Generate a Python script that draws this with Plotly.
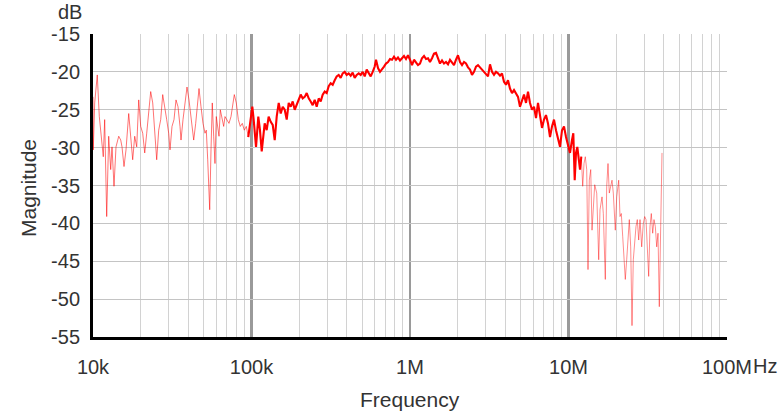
import plotly.graph_objects as go

# Frequency (kHz) and magnitude (dB)
freq_khz = [
    10.0, 10.04, 10.25, 10.64, 10.96, 11.28, 11.61, 11.85, 12.20, 12.56,
    12.93, 13.18, 13.57, 13.97, 14.53, 14.96, 15.24, 15.69, 16.15, 16.80,
    17.29, 17.80, 18.33, 18.87, 19.43, 20.00, 20.59, 21.20, 21.82, 22.46,
    23.12, 23.81, 24.51, 25.23, 25.97, 26.74, 27.53, 28.34, 29.17, 30.03,
    30.61, 31.51, 32.44, 33.40, 34.38, 35.39, 35.91, 36.97, 38.06, 39.18,
    40.33, 41.10, 42.31, 43.18, 44.46, 45.77, 46.65, 48.02, 49.43, 50.89,
    51.86, 52.93, 54.49, 55.53, 56.57, 57.73, 58.84, 59.96, 61.20, 62.37,
    63.56, 64.86, 66.77, 68.04, 70.05, 72.11, 74.25, 76.44, 77.90, 80.19,
    82.56, 84.98, 87.50, 90.08, 92.73, 95.46, 98.26, 101.2, 103.2, 106.8,
    110.4, 113.1, 116.0, 121.1, 124.7, 128.3, 132.2, 136.1, 140.1, 144.2,
    148.5, 152.9, 157.4, 162.0, 166.8, 171.7, 176.8, 182.0, 187.4, 192.9,
    198.6, 204.4, 210.4, 216.6, 223.0, 229.6, 236.3, 243.3, 250.5, 257.8,
    265.5, 273.3, 281.3, 289.6, 298.2, 306.9, 316.0, 325.3, 334.9, 344.7,
    354.9, 365.4, 376.1, 387.3, 398.6, 410.4, 422.5, 434.9, 447.8, 461.0,
    474.5, 488.7, 503.0, 517.9, 533.2, 548.9, 565.1, 581.7, 598.9, 610.3,
    628.3, 646.8, 665.9, 685.5, 705.7, 726.5, 747.9, 769.9, 792.6, 816.0,
    840.0, 864.8, 890.3, 916.5, 943.6, 971.4, 1000, 1030, 1060, 1091,
    1123, 1156, 1190, 1226, 1262, 1299, 1337, 1377, 1417, 1459,
    1502, 1546, 1592, 1639, 1687, 1737, 1788, 1841, 1895, 1951,
    2008, 2068, 2129, 2192, 2256, 2323, 2391, 2462, 2534, 2609,
    2686, 2765, 2847, 2931, 3017, 3106, 3197, 3292, 3388, 3488,
    3591, 3697, 3806, 3918, 4034, 4153, 4275, 4401, 4531, 4664,
    4802, 4943, 5089, 5239, 5394, 5553, 5716, 5885, 6058, 6237,
    6421, 6610, 6805, 7006, 7212, 7426, 7644, 7870, 8101, 8340,
    8587, 8840, 9101, 9369, 9645, 9929, 10221, 10522, 10723, 10943,
    11152, 11365, 11599, 11820, 12045, 12292, 12527, 12766, 13028, 13276,
    13529, 13809, 14073, 14341, 14635, 15067, 15510, 15806, 16273, 16583,
    17071, 17421, 17753, 18092, 18462, 18814, 19173, 19738, 20145, 20738,
    21133, 21536, 21977, 22397, 22824, 23292, 23737, 24189, 24684, 25155,
    25635, 26164, 26662, 27171, 27727, 28256, 28960, 29641, 30255, 30831,
    31418, 32063, 32674, 33297, 33979, 34627, 35287, 36017, 36705, 37404,
    38169, 38899,
]

magnitude_db = [
    -23.3, -30.3, -24.1, -20.4, -25.9, -28.5, -31.2, -26.3, -39.1, -28.5,
    -32.9, -29.9, -35.1, -29.9, -28.5, -29.0, -29.9, -32.5, -30.3, -25.5,
    -28.1, -31.6, -28.5, -29.9, -23.7, -27.2, -28.1, -30.7, -28.1, -25.5,
    -22.6, -24.1, -27.7, -31.6, -27.7, -26.3, -23.0, -25.0, -26.3, -28.1,
    -30.3, -27.2, -26.3, -23.7, -24.6, -27.2, -29.0, -26.3, -23.7, -22.0,
    -23.7, -25.0, -27.2, -29.0, -26.8, -24.1, -22.2, -24.6, -26.8, -28.1,
    -27.7, -31.6, -38.2, -30.3, -24.1, -28.5, -32.1, -25.9, -27.7, -28.5,
    -25.0, -25.9, -27.2, -25.9, -26.3, -26.8, -25.9, -24.1, -23.0, -24.1,
    -26.3, -27.2, -26.8, -27.7, -27.2, -28.6, -26.3, -24.6, -26.3, -29.9,
    -25.9, -27.7, -30.5, -26.8, -27.7, -25.9, -26.6, -27.0, -29.0, -25.9,
    -24.1, -25.5, -24.6, -25.0, -26.3, -24.1, -24.6, -23.9, -25.0, -24.4,
    -23.7, -23.0, -23.5, -23.3, -22.8, -23.5, -23.9, -24.4, -23.7, -24.6,
    -23.5, -23.9, -23.0, -22.6, -22.8, -21.9, -21.5, -21.7, -21.1, -20.6,
    -20.4, -20.8, -20.2, -20.0, -20.4, -20.2, -20.5, -20.1, -20.8, -20.4,
    -20.2, -20.4, -20.0, -20.6, -19.7, -20.2, -20.6, -20.0, -19.3, -18.4,
    -19.5, -20.0, -19.7, -19.3, -18.9, -18.7, -18.3, -18.4, -18.0, -18.4,
    -18.1, -18.5, -18.2, -17.9, -18.3, -17.8, -18.4, -19.1, -18.4, -18.8,
    -19.1, -18.9, -18.2, -17.9, -18.3, -18.2, -18.7, -18.2, -17.6, -17.5,
    -18.3, -18.9, -18.5, -18.9, -18.7, -19.0, -18.4, -18.7, -19.1, -18.4,
    -17.8, -18.7, -19.1, -18.7, -18.9, -19.4, -19.7, -20.4, -20.0, -19.3,
    -19.1, -19.4, -19.7, -20.0, -20.2, -20.6, -19.0, -20.0, -20.4, -20.0,
    -20.2, -20.5, -20.2, -21.3, -21.7, -21.1, -22.2, -22.8, -22.4, -22.8,
    -23.3, -24.6, -23.7, -23.0, -24.1, -22.6, -24.1, -25.0, -24.6, -26.1,
    -24.1, -25.9, -27.4, -26.3, -25.7, -26.8, -28.6, -27.2, -26.3, -27.7,
    -29.0, -29.9, -27.7, -27.2, -28.6, -29.9, -30.7, -29.0, -28.1, -34.3,
    -30.7, -29.9, -31.6, -32.9, -31.2, -35.1, -32.1, -31.2, -32.9, -46.1,
    -34.3, -32.9, -40.9, -37.3, -34.9, -36.0, -44.8, -38.2, -36.5, -38.7,
    -47.4, -35.1, -32.1, -36.0, -35.1, -34.3, -36.0, -40.9, -36.5, -34.3,
    -39.1, -38.7, -41.7, -45.7, -47.4, -44.8, -41.3, -39.5, -43.1, -53.5,
    -44.8, -41.7, -40.4, -39.5, -42.2, -39.5, -43.1, -40.0, -39.1, -39.5,
    -43.1, -47.0, -40.4, -38.7, -41.3, -39.5, -40.4, -43.1, -41.3, -51.0,
    -40.4, -30.7,
]

x_tickvals = [1e4, 1e5, 1e6, 1e7, 1e8]
x_ticktext = ["10k", "100k", "1M", "10M", "100M"]
x_minor = [m * d for d in (1e4, 1e5, 1e6, 1e7) for m in range(2, 10)]
y_tickvals = [-15, -20, -25, -30, -35, -40, -45, -50, -55]
y_ticktext = [str(v) for v in y_tickvals]

font_family = "Liberation Sans, Arial, sans-serif"
TXT = "#333333"
FS = 20
FT = 21

# Split the sweep into noisy (pale) and smooth (solid) stretches
freq_hz = [f * 1e3 for f in freq_khz]
i_lo = next(i for i, f in enumerate(freq_khz) if f >= 95)
i_hi = next(i for i, f in enumerate(freq_khz) if f >= 12000)
segments = [
    (0, i_lo + 1, "rgba(255,0,0,0.55)", 1.0),
    (i_lo, i_hi + 1, "rgba(255,0,0,1)", 2.1),
    (i_hi, len(freq_khz), "rgba(255,0,0,0.45)", 1.0),
]

fig = go.Figure()
for a, b, col, w in segments:
    fig.add_trace(go.Scatter(
        x=freq_hz[a:b],
        y=magnitude_db[a:b],
        mode="lines",
        line=dict(color=col, width=w),
        hoverinfo="skip",
        showlegend=False,
    ))

fig.update_layout(
    width=784, height=414,
    margin=dict(l=93, r=57, t=34, b=77),
    paper_bgcolor="white",
    plot_bgcolor="white",
    font=dict(family=font_family, size=FS, color=TXT),
    xaxis=dict(
        type="log",
        range=[4, 8],
        tickmode="array",
        tickvals=x_tickvals,
        ticktext=x_ticktext,
        showgrid=True,
        gridcolor="#9a9a9a",
        gridwidth=2.5,
        minor=dict(tickmode="array", tickvals=x_minor, showgrid=True,
                   gridcolor="#d2d2d2", gridwidth=1, ticks=""),
        showline=True,
        linecolor="#000000",
        linewidth=3,
        ticks="outside",
        ticklen=10,
        tickcolor="rgba(0,0,0,0)",
        zeroline=False,
        tickfont=dict(size=FS, color=TXT),
    ),
    yaxis=dict(
        range=[-55, -15],
        tickmode="array",
        tickvals=y_tickvals,
        ticktext=y_ticktext,
        showgrid=True,
        gridcolor="#c4c4c4",
        gridwidth=1,
        showline=True,
        linecolor="#000000",
        linewidth=3,
        ticks="outside",
        ticklen=6,
        tickcolor="rgba(0,0,0,0)",
        zeroline=False,
        tickfont=dict(size=FS, color=TXT),
    ),
    annotations=[
        dict(text="dB", xref="paper", yref="paper", x=-0.0363, y=1.0726,
             xanchor="center", yanchor="middle", showarrow=False,
             font=dict(size=FS, color=TXT)),
        dict(text="Hz", xref="paper", yref="paper", x=1.0, y=-0.0957,
             xanchor="left", yanchor="middle", xshift=24, showarrow=False,
             font=dict(size=FS, color=TXT)),
        dict(text="Magnitude", xref="paper", yref="paper", x=-0.1025, y=0.4917,
             xanchor="center", yanchor="middle", textangle=-90, showarrow=False,
             font=dict(size=FT, color=TXT)),
        dict(text="Frequency", xref="paper", yref="paper", x=0.5, y=-0.2079,
             xanchor="center", yanchor="middle", showarrow=False,
             font=dict(size=FT, color=TXT)),
    ],
)

fig.write_html(
    "out.html",
    config={"displayModeBar": False, "staticPlot": True},
    post_script="document.body.style.margin='0';document.body.style.overflow='hidden';",
)
